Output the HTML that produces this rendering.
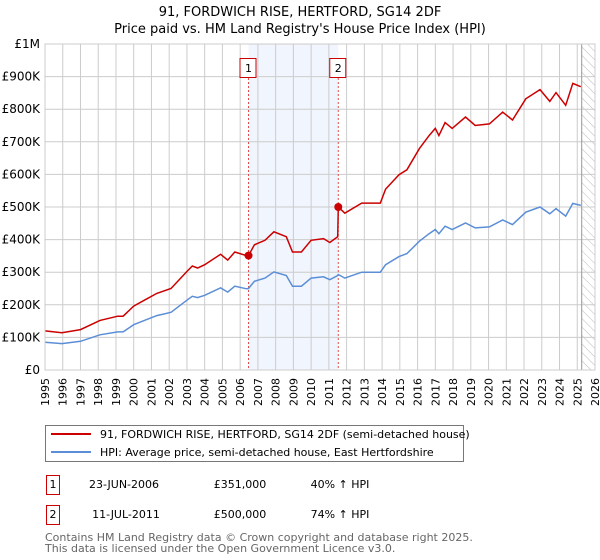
<!DOCTYPE html>
<html><head><meta charset="utf-8"><style>
body{margin:0;background:#fff;font-family:"DejaVu Sans","Liberation Sans",sans-serif;}
svg{display:block}
</style></head><body>
<svg width="600" height="560" xmlns="http://www.w3.org/2000/svg" font-family="DejaVu Sans, Liberation Sans, sans-serif">
<text x="300" y="16" text-anchor="middle" font-size="13" fill="#000">91, FORDWICH RISE, HERTFORD, SG14 2DF</text>
<text x="300" y="33" text-anchor="middle" font-size="13" fill="#000">Price paid vs. HM Land Registry's House Price Index (HPI)</text>
<g id="plot"></g>
<g>
<rect x="45.5" y="425.5" width="418" height="36" fill="#fff" stroke="#777"/>
<line x1="51" y1="434" x2="91" y2="434" stroke="#cc0000" stroke-width="2"/>
<text x="100" y="438" font-size="11">91, FORDWICH RISE, HERTFORD, SG14 2DF (semi-detached house)</text>
<line x1="51" y1="452" x2="91" y2="452" stroke="#5b8ed6" stroke-width="2"/>
<text x="100" y="456" font-size="11">HPI: Average price, semi-detached house, East Hertfordshire</text>
</g>
<g font-size="11">
<rect x="46.5" y="475.5" width="13" height="19" fill="#fff" stroke="#cc0000"/>
<text x="53" y="488" text-anchor="middle">1</text>
<text x="124" y="488" text-anchor="middle">23-JUN-2006</text>
<text x="240" y="488" text-anchor="middle">£351,000</text>
<text x="340" y="488" text-anchor="middle">40% ↑ HPI</text>
<rect x="46.5" y="505.5" width="13" height="19" fill="#fff" stroke="#cc0000"/>
<text x="53" y="518" text-anchor="middle">2</text>
<text x="126" y="518" text-anchor="middle">11-JUL-2011</text>
<text x="240" y="518" text-anchor="middle">£500,000</text>
<text x="340" y="518" text-anchor="middle">74% ↑ HPI</text>
</g>
<text x="45" y="541" font-size="11" fill="#666">Contains HM Land Registry data © Crown copyright and database right 2025.</text>
<text x="45" y="552" font-size="11" fill="#666">This data is licensed under the Open Government Licence v3.0.</text>
</svg>
<script>
const years=[1995.0,1995.95,1997.0,1998.1,1999.1,1999.4,2000.0,2000.6,2001.3,2002.1,2003.0,2003.3,2003.6,2004.0,2004.9,2005.3,2005.7,2006.35,2006.47,2006.8,2007.4,2007.9,2008.6,2008.95,2009.45,2010.0,2010.7,2011.05,2011.5,2011.53,2011.9,2012.85,2013.9,2014.2,2014.95,2015.4,2016.1,2016.65,2017.0,2017.2,2017.55,2017.95,2018.7,2019.25,2020.05,2020.8,2021.35,2022.1,2022.9,2023.45,2023.8,2024.35,2024.75,2025.2];
const hpiValues=[85,81,88,108,117,117,139,152,167,177,214,226,222,229,252,239,257,249,250,272,282,301,290,257,257,282,286,277,290,293,282,300,300,323,348,357,395,418,431,418,441,431,451,436,439,460,446,484,500,479,495,472,511,505];
const priceValues=[120,114,124,152,165,165,196,214,235,250,302,319,313,323,355,337,362,351,351,384,398,424,409,362,362,398,403,391,409,500,481,512,512,555,599,614,679,719,741,719,759,741,776,750,755,791,767,832,860,824,851,812,879,869];
const saleYears=[2006.47,2011.53];
const salePrices=[351,500];
const saleLabels=["1","2"];
const yTicks=[0,100,200,300,400,500,600,700,800,900,1000];
const yTickLabels=["£0","£100K","£200K","£300K","£400K","£500K","£600K","£700K","£800K","£900K","£1M"];
const xTicks=[1995,1996,1997,1998,1999,2000,2001,2002,2003,2004,2005,2006,2007,2008,2009,2010,2011,2012,2013,2014,2015,2016,2017,2018,2019,2020,2021,2022,2023,2024,2025,2026];
const X0=45,X1=595,Y0=370,Y1=44,YR0=1995,YR1=2026,VMAX=1000;
function xs(y){return X0+(y-YR0)/(YR1-YR0)*(X1-X0);}
function ys(v){return Y0-v/VMAX*(Y0-Y1);}
const NS="http://www.w3.org/2000/svg";
const g=document.getElementById('plot');
function mk(t,a,p){const e=document.createElementNS(NS,t);for(const k in a)e.setAttribute(k,a[k]);(p||g).appendChild(e);return e;}
// shaded period
const sh=mk('rect',{x:xs(saleYears[0]),y:Y1,width:xs(saleYears[1])-xs(saleYears[0]),height:Y0-Y1,fill:'#eef3fc',opacity:0.8});


// hatch future
const defs=mk('defs',{});
const pat=mk('pattern',{id:'hatch',width:6,height:6,patternUnits:'userSpaceOnUse',patternTransform:'rotate(-45)'},defs);
mk('line',{x1:0,y1:0,x2:0,y2:6,stroke:'#bbb','stroke-width':1},pat);
const hx=xs(2025.25);
const ht=mk('rect',{x:hx,y:Y1,width:X1-hx,height:Y0-Y1,fill:'url(#hatch)'});


// grid
xTicks.forEach((t,i)=>{
 const l=mk('line',{x1:xs(t),x2:xs(t),y1:Y1,y2:Y0,stroke:'#cccccc','stroke-width':1});
 
 
 const tx=mk('text',{x:0,y:0,'font-size':11,'text-anchor':'end',transform:`translate(${xs(t)+4},${Y0+8}) rotate(-90)`});
 tx.textContent=t;
 
 
});
yTicks.forEach((t,i)=>{
 const l=mk('line',{x1:X0,x2:X1,y1:ys(t),y2:ys(t),stroke:'#cccccc','stroke-width':1});
 
 
 const tx=mk('text',{x:40,y:ys(t)+4,'font-size':12,'text-anchor':'end'});
 tx.textContent=yTickLabels[i];
 
 
});
const vl=mk('line',{x1:hx,x2:hx,y1:Y1,y2:Y0,stroke:'#999','stroke-width':1});


// sale markers
saleYears.forEach((s,i)=>{
 const l=mk('line',{x1:xs(s),x2:xs(s),y1:Y1+34,y2:Y0,stroke:'#e05050','stroke-width':1,'stroke-dasharray':'2,2'});
 
 
 const b=mk('rect',{x:xs(s)-8.5,y:58.5,width:16,height:19,fill:'#fff',stroke:'#cc0000'});
 
 
 const t=mk('text',{x:xs(s),y:72,'font-size':11,'text-anchor':'middle'});
 t.textContent=saleLabels[i];
 
 
});
function path(vals){return years.map((y,i)=>(i?'L':'M')+xs(y).toFixed(1)+','+ys(vals[i]).toFixed(1)).join('');}
const hp=mk('path',{d:path(hpiValues),fill:'none',stroke:'#5b8ed6','stroke-width':1.5});


const pp=mk('path',{d:path(priceValues),fill:'none',stroke:'#cc0000','stroke-width':1.5});


saleYears.forEach((s,i)=>{
 const c=mk('circle',{cx:xs(s),cy:ys(salePrices[i]),r:4,fill:'#cc0000'});
 
 
});
const fr=mk('rect',{x:X0,y:Y1,width:X1-X0,height:Y0-Y1,fill:'none',stroke:'#cccccc'});


</script>
</body></html>
